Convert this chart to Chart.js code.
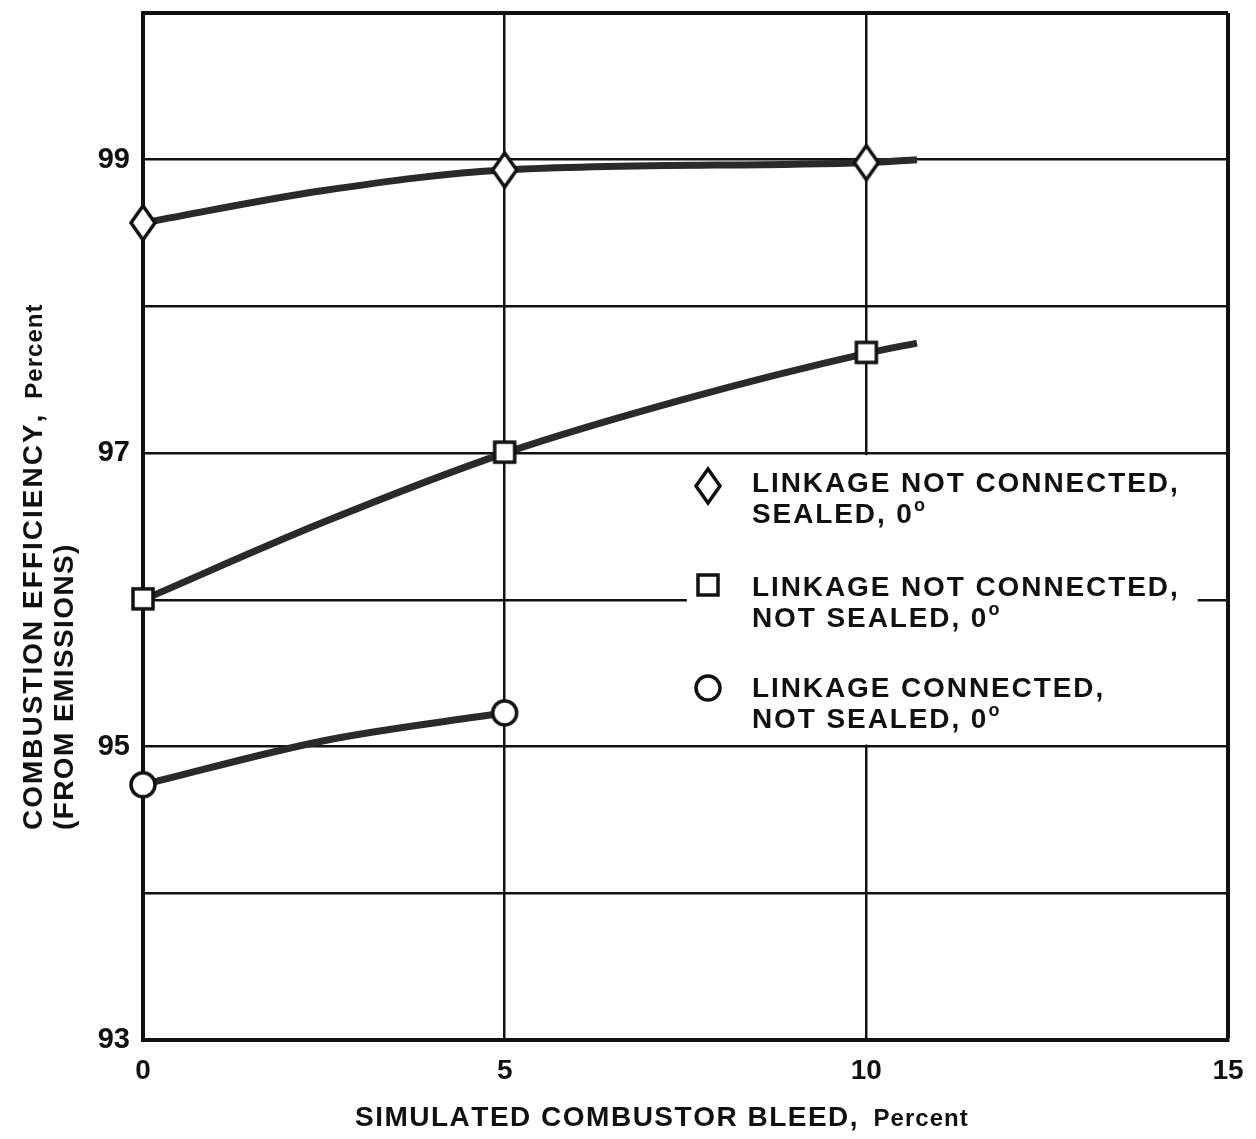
<!DOCTYPE html>
<html>
<head>
<meta charset="utf-8">
<script src="https://cdn.jsdelivr.net/npm/chart.js@4.4.1/dist/chart.umd.min.js"></script>
<style>
    html, body { margin: 0; padding: 0; background: #fff; }
    #wrap { width: 1256px; height: 1139px; }
</style>
</head>
<body>
<div id="wrap"><canvas id="chart" width="1256" height="1139"></canvas></div>
<script>
// measured points (bleed %, efficiency %)
const bleed = [0, 5, 10];
const sealedPts = [98.57, 98.93, 98.98];
const notSealedPts = [96.0, 97.0, 97.68];
const connectedPts = [94.74, 95.23];

// faired curves
const sealedCurveX = [0, 2.5, 5, 10, 10.7];
const sealedCurveY = [98.57, 98.79, 98.93, 98.98, 99.0];
const notSealedCurveX = [0, 2.5, 5, 7.5, 10, 10.7];
const notSealedCurveY = [96.0, 96.53, 97.0, 97.37, 97.68, 97.75];
const connectedCurveX = [0, 2.5, 5];
const connectedCurveY = [94.74, 95.04, 95.23];

const yTickLabels = [93, 95, 97, 99];
const xTickLabels = [0, 5, 10, 15];

const legendLabels = [
    ['LINKAGE NOT CONNECTED,', 'SEALED, 0°'],
    ['LINKAGE NOT CONNECTED,', 'NOT SEALED, 0°'],
    ['LINKAGE CONNECTED,', 'NOT SEALED, 0°'],
];

const yTitle = ['COMBUSTION EFFICIENCY,', 'Percent'];
const yTitle2 = '(FROM EMISSIONS)';
const xTitle = ['SIMULATED COMBUSTOR BLEED,', 'Percent'];

const ink = '#111';
const lineInk = '#2a2a2a';
const FONT = '"Liberation Sans", Arial, Helvetica, sans-serif';

function zip(xs, ys) {
    return ys.map((y, i) => ({ x: xs[i], y }));
}

function makeMarker(kind) {
    const c = document.createElement('canvas');
    c.width = 32;
    c.height = 40;
    const g = c.getContext('2d');
    g.fillStyle = '#fff';
    g.strokeStyle = ink;
    g.lineWidth = 3.5;
    g.beginPath();
    if (kind === 'diamond') {
        g.moveTo(16, 3);
        g.lineTo(28, 20);
        g.lineTo(16, 37);
        g.lineTo(4, 20);
        g.closePath();
    } else if (kind === 'square') {
        g.rect(6, 9, 20, 20);
    } else {
        g.arc(16, 20, 12, 0, Math.PI * 2);
    }
    g.fill();
    g.stroke();
    return c;
}

const markers = {
    diamond: makeMarker('diamond'),
    square: makeMarker('square'),
    circle: makeMarker('circle'),
};

// draws text char by char so spacing works everywhere
function spaced(ctx, text, x, y, gap) {
    for (const ch of text) {
        ctx.fillText(ch, x, y);
        x += ctx.measureText(ch).width + gap;
    }
    return x - gap;
}

function labelLine(ctx, text, x, y) {
    if (text.endsWith('°')) {
        const end = spaced(ctx, text.slice(0, -1), x, y, 1.9);
        ctx.save();
        ctx.font = `bold 18px ${FONT}`;
        ctx.fillText('o', end + 2, y - 12);
        ctx.restore();
        return;
    }
    spaced(ctx, text, x, y, 1.9);
}

const overlay = {
    id: 'overlay',
    beforeDatasetsDraw(chart) {
        const { ctx } = chart;
        const xs = chart.scales.x;
        const ys = chart.scales.y;
        const left = xs.getPixelForValue(7.52);
        const right = xs.getPixelForValue(14.58);
        const top = ys.getPixelForValue(97) + 2;
        const bottom = ys.getPixelForValue(95) - 2;
        ctx.save();
        ctx.fillStyle = '#fff';
        ctx.fillRect(left, top, right - left, bottom - top);
        ctx.restore();
    },
    afterDraw(chart) {
        const { ctx } = chart;
        ctx.save();
        ctx.fillStyle = ink;
        ctx.textBaseline = 'alphabetic';

        // legend
        const kinds = ['diamond', 'square', 'circle'];
        const markerY = [486, 586, 688];
        const baseY = [492, 596, 697];
        ctx.font = `bold 28px ${FONT}`;
        legendLabels.forEach((lines, i) => {
            const m = markers[kinds[i]];
            ctx.drawImage(m, 708 - m.width / 2, markerY[i] - m.height / 2);
            lines.forEach((t, j) => labelLine(ctx, t, 752, baseY[i] + j * 31));
        });

        // x title
        ctx.font = `bold 28px ${FONT}`;
        let end = spaced(ctx, xTitle[0], 355, 1126, 1.5);
        ctx.font = `bold 24px ${FONT}`;
        spaced(ctx, xTitle[1], end + 16, 1126, 1);

        // y title, rotated
        ctx.rotate(-Math.PI / 2);
        ctx.font = `bold 28px ${FONT}`;
        end = spaced(ctx, yTitle[0], -830, 42, 2);
        ctx.font = `bold 24px ${FONT}`;
        spaced(ctx, yTitle[1], end + 16, 42, 1);
        ctx.font = `bold 28px ${FONT}`;
        spaced(ctx, yTitle2, -830, 73, 1.4);
        ctx.restore();
    },
};

const curveStyle = {
    borderColor: lineInk,
    borderWidth: 7,
    pointRadius: 0,
    cubicInterpolationMode: 'monotone',
    fill: false,
    clip: false,
    order: 2,
};

const markerStyle = (kind) => ({
    showLine: false,
    pointStyle: markers[kind],
    pointRadius: 12,
    clip: false,
    order: 1,
});

new Chart(document.getElementById('chart'), {
    type: 'line',
    data: {
        datasets: [
            { label: 'sealed curve', data: zip(sealedCurveX, sealedCurveY), ...curveStyle },
            { label: 'not sealed curve', data: zip(notSealedCurveX, notSealedCurveY), ...curveStyle },
            { label: 'connected curve', data: zip(connectedCurveX, connectedCurveY), ...curveStyle },
            { label: legendLabels[0].join(' '), data: zip(bleed, sealedPts), ...markerStyle('diamond') },
            { label: legendLabels[1].join(' '), data: zip(bleed, notSealedPts), ...markerStyle('square') },
            { label: legendLabels[2].join(' '), data: zip(bleed, connectedPts), ...markerStyle('circle') },
        ],
    },
    options: {
        responsive: false,
        animation: false,
        devicePixelRatio: 1,
        layout: { padding: { top: 10, right: 28, left: 0, bottom: 0 } },
        plugins: {
            legend: { display: false },
            tooltip: { enabled: false },
        },
        scales: {
            x: {
                type: 'linear',
                min: 0,
                max: 15,
                afterFit: (scale) => {
                    scale.height = 99;
                    scale.paddingLeft = 0;
                    scale.paddingRight = 0;
                },
                grid: {
                    color: ink,
                    lineWidth: (c) => (c.tick && c.tick.value === 15 ? 4 : 2.5),
                    drawTicks: false,
                },
                border: { display: true, color: ink, width: 4 },
                ticks: {
                    stepSize: 5,
                    padding: 14,
                    color: ink,
                    font: { family: FONT, size: 28, weight: 'bold' },
                    callback: (v) => (xTickLabels.includes(v) ? String(v) : ''),
                },
            },
            y: {
                min: 93,
                max: 100,
                afterFit: (scale) => {
                    scale.width = 143;
                    scale.paddingTop = 0;
                    scale.paddingBottom = 0;
                },
                grid: {
                    color: ink,
                    lineWidth: (c) => (c.tick && c.tick.value === 100 ? 4 : 2.5),
                    drawTicks: false,
                },
                border: { display: true, color: ink, width: 4 },
                ticks: {
                    stepSize: 1,
                    padding: 13,
                    color: ink,
                    font: { family: FONT, size: 29, weight: 'bold' },
                    callback: (v) => (yTickLabels.includes(v) ? String(v) : ''),
                },
            },
        },
    },
    plugins: [overlay],
});
</script>
</body>
</html>
